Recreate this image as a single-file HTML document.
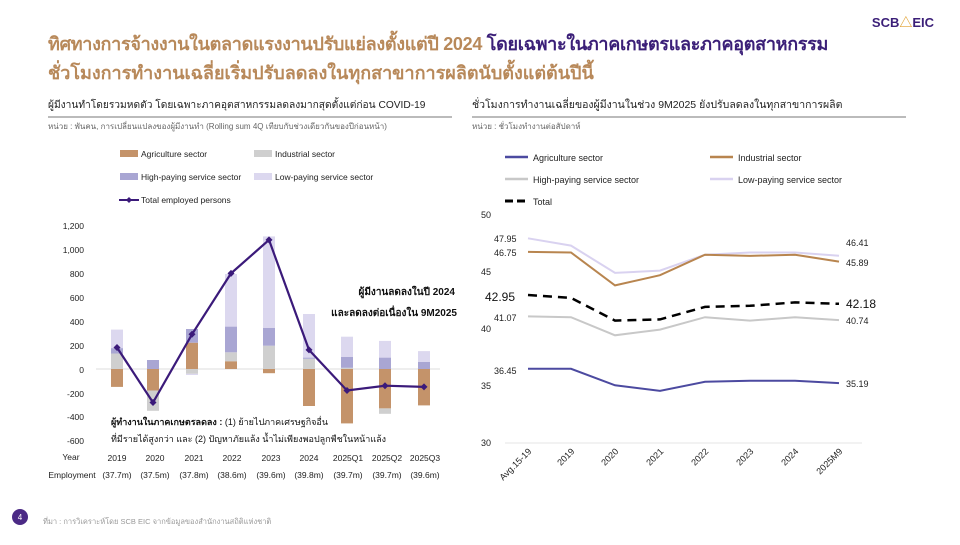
<!DOCTYPE html><html><head><meta charset="utf-8"><style>
body{margin:0;width:960px;height:540px;background:#fff;overflow:hidden;font-family:"Liberation Sans","Noto Sans CJK SC",sans-serif}
svg text{font-family:"Liberation Sans","Noto Sans CJK SC",sans-serif}
</style></head><body>
<svg width="960" height="540" viewBox="0 0 960 540" xmlns="http://www.w3.org/2000/svg">
<text x="903" y="27" font-size="13" font-weight="bold" fill="#3b1f78" text-anchor="middle">SCB<tspan fill="#e0a030">△</tspan>EIC</text>
<text x="48" y="50" font-size="18" font-weight="bold" fill="#b8895a" letter-spacing="-0.3">ทิศทางการจ้างงานในตลาดแรงงานปรับแย่ลงตั้งแต่ปี 2024 <tspan fill="#3b1f78">โดยเฉพาะในภาคเกษตรและภาคอุตสาหกรรม</tspan></text>
<text x="48" y="79" font-size="18" font-weight="bold" fill="#b8895a">ชั่วโมงการทำงานเฉลี่ยเริ่มปรับลดลงในทุกสาขาการผลิตนับตั้งแต่ต้นปีนี้</text>
<text x="48" y="108" font-size="10.2" fill="#222">ผู้มีงานทำโดยรวมหดตัว โดยเฉพาะภาคอุตสาหกรรมลดลงมากสุดตั้งแต่ก่อน COVID-19</text>
<text x="472" y="108" font-size="10.5" fill="#222">ชั่วโมงการทำงานเฉลี่ยของผู้มีงานในช่วง 9M2025 ยังปรับลดลงในทุกสาขาการผลิต</text>
<rect x="48" y="116" width="404" height="2" fill="#bbb"/>
<rect x="472" y="116" width="434" height="2" fill="#bbb"/>
<text x="48" y="129" font-size="8" fill="#666">หน่วย : พันคน, การเปลี่ยนแปลงของผู้มีงานทำ (Rolling sum 4Q เทียบกับช่วงเดียวกันของปีก่อนหน้า)</text>
<text x="472" y="129" font-size="8" fill="#666">หน่วย : ชั่วโมงทำงานต่อสัปดาห์</text>
<g font-size="8.5" fill="#222">
<rect x="120" y="150" width="18" height="7" fill="#c4936a"/><text x="141" y="157">Agriculture sector</text>
<rect x="254" y="150" width="18" height="7" fill="#cfcfcf"/><text x="275" y="157">Industrial sector</text>
<rect x="120" y="173" width="18" height="7" fill="#a9a6d3"/><text x="141" y="180">High-paying service sector</text>
<rect x="254" y="173" width="18" height="7" fill="#dcd8ef"/><text x="275" y="180">Low-paying service sector</text>
<line x1="119" y1="200" x2="139" y2="200" stroke="#3b1a7a" stroke-width="2"/><path d="M129 197l3 3-3 3-3-3z" fill="#3b1a7a"/><text x="141" y="203">Total employed persons</text>
</g>
<g font-size="8.5" fill="#222" text-anchor="end">
<text x="84" y="229">1,200</text><text x="84" y="253">1,000</text><text x="84" y="277">800</text><text x="84" y="301">600</text><text x="84" y="325">400</text><text x="84" y="349">200</text><text x="84" y="373">0</text><text x="84" y="397">-200</text><text x="84" y="420">-400</text><text x="84" y="444">-600</text>
</g>
<line x1="96" y1="369" x2="440" y2="369" stroke="#ddd"/>
<g>
<rect x="111" y="369" width="12" height="17.9" fill="#c4936a"/><rect x="111" y="353.5" width="12" height="15.5" fill="#cfcfcf"/><rect x="111" y="348.1" width="12" height="5.4" fill="#a9a6d3"/><rect x="111" y="329.6" width="12" height="18.5" fill="#dcd8ef"/>
<rect x="147" y="369" width="12" height="21.5" fill="#c4936a"/><rect x="147" y="390.5" width="12" height="20.3" fill="#cfcfcf"/><rect x="147" y="360" width="12" height="9" fill="#a9a6d3"/>
<rect x="186" y="342.7" width="12" height="26.3" fill="#c4936a"/><rect x="186" y="329" width="12" height="13.7" fill="#a9a6d3"/><rect x="186" y="369" width="12" height="4.8" fill="#cfcfcf"/><rect x="186" y="373.8" width="12" height="1.2" fill="#dcd8ef"/>
<rect x="225" y="361.2" width="12" height="7.8" fill="#c4936a"/><rect x="225" y="352.3" width="12" height="9" fill="#cfcfcf"/><rect x="225" y="326.6" width="12" height="25.7" fill="#a9a6d3"/><rect x="225" y="274" width="12" height="52.6" fill="#dcd8ef"/>
<rect x="263" y="369" width="12" height="4.2" fill="#c4936a"/><rect x="263" y="345.7" width="12" height="23.3" fill="#cfcfcf"/><rect x="263" y="327.8" width="12" height="17.9" fill="#a9a6d3"/><rect x="263" y="236.4" width="12" height="91.4" fill="#dcd8ef"/>
<rect x="303" y="369" width="12" height="37" fill="#c4936a"/><rect x="303" y="358.8" width="12" height="10.2" fill="#cfcfcf"/><rect x="303" y="357.6" width="12" height="1.2" fill="#a9a6d3"/><rect x="303" y="314" width="12" height="43.6" fill="#dcd8ef"/>
<rect x="341" y="369" width="12" height="54.4" fill="#c4936a"/><rect x="341" y="367.8" width="12" height="1.2" fill="#cfcfcf"/><rect x="341" y="357" width="12" height="10.8" fill="#a9a6d3"/><rect x="341" y="336.7" width="12" height="20.3" fill="#dcd8ef"/>
<rect x="379" y="369" width="12" height="39.4" fill="#c4936a"/><rect x="379" y="408.4" width="12" height="5.4" fill="#cfcfcf"/><rect x="379" y="357.6" width="12" height="11.4" fill="#a9a6d3"/><rect x="379" y="340.9" width="12" height="16.7" fill="#dcd8ef"/>
<rect x="418" y="369" width="12" height="36.4" fill="#c4936a"/><rect x="418" y="361.8" width="12" height="7.2" fill="#a9a6d3"/><rect x="418" y="351.1" width="12" height="10.8" fill="#dcd8ef"/>
</g>
<polyline points="117,347.5 153,402.5 192,334.3 231,273.4 269,239.9 309,349.9 347,390.5 385,385.7 424,386.9" fill="none" stroke="#3b1a7a" stroke-width="2.2"/>
<g fill="#3b1a7a">
<path d="M117 344l3.5 3.5-3.5 3.5-3.5-3.5z"/><path d="M153 399l3.5 3.5-3.5 3.5-3.5-3.5z"/><path d="M192 330.8l3.5 3.5-3.5 3.5-3.5-3.5z"/><path d="M231 269.9l3.5 3.5-3.5 3.5-3.5-3.5z"/><path d="M269 236.4l3.5 3.5-3.5 3.5-3.5-3.5z"/><path d="M309 346.4l3.5 3.5-3.5 3.5-3.5-3.5z"/><path d="M347 387l3.5 3.5-3.5 3.5-3.5-3.5z"/><path d="M385 382.2l3.5 3.5-3.5 3.5-3.5-3.5z"/><path d="M424 383.4l3.5 3.5-3.5 3.5-3.5-3.5z"/>
</g>
<text x="455" y="295" font-size="10" font-weight="bold" fill="#111" text-anchor="end">ผู้มีงานลดลงในปี 2024</text>
<text x="457" y="316" font-size="10" font-weight="bold" fill="#111" text-anchor="end">และลดลงต่อเนื่องใน 9M2025</text>
<text x="111" y="425" font-size="9" fill="#111"><tspan font-weight="bold">ผู้ทำงานในภาคเกษตรลดลง :</tspan> (1) ย้ายไปภาคเศรษฐกิจอื่น</text>
<text x="111" y="442" font-size="9" fill="#111">ที่มีรายได้สูงกว่า และ (2) ปัญหาภัยแล้ง น้ำไม่เพียงพอปลูกพืชในหน้าแล้ง</text>
<g font-size="8.5" fill="#222" text-anchor="middle">
<text x="71" y="460">Year</text><text x="117" y="461">2019</text><text x="155" y="461">2020</text><text x="194" y="461">2021</text><text x="232" y="461">2022</text><text x="271" y="461">2023</text><text x="309" y="461">2024</text><text x="348" y="461">2025Q1</text><text x="387" y="461">2025Q2</text><text x="425" y="461">2025Q3</text>
<text x="72" y="478">Employment</text><text x="117" y="478">(37.7m)</text><text x="155" y="478">(37.5m)</text><text x="194" y="478">(37.8m)</text><text x="232" y="478">(38.6m)</text><text x="271" y="478">(39.6m)</text><text x="309" y="478">(39.8m)</text><text x="348" y="478">(39.7m)</text><text x="387" y="478">(39.7m)</text><text x="425" y="478">(39.6m)</text>
</g>
<g font-size="9" fill="#222">
<line x1="505" y1="157" x2="528" y2="157" stroke="#4c4aa0" stroke-width="2.5"/><text x="533" y="161">Agriculture sector</text>
<line x1="710" y1="157" x2="733" y2="157" stroke="#b8854f" stroke-width="2.5"/><text x="738" y="161">Industrial sector</text>
<line x1="505" y1="179" x2="528" y2="179" stroke="#c8c8c8" stroke-width="2.5"/><text x="533" y="183">High-paying service sector</text>
<line x1="710" y1="179" x2="733" y2="179" stroke="#d9d2f0" stroke-width="2.5"/><text x="738" y="183">Low-paying service sector</text>
<line x1="505" y1="201" x2="528" y2="201" stroke="#000" stroke-width="3" stroke-dasharray="8,4"/><text x="533" y="205">Total</text>
</g>
<g font-size="9" fill="#222">
<text x="481" y="218">50</text><text x="481" y="275">45</text><text x="481" y="332">40</text><text x="481" y="389">35</text><text x="481" y="446">30</text>
</g>
<line x1="505" y1="443" x2="862" y2="443" stroke="#e4e4e4"/>
<polyline points="528,238.3 571,245.6 615,272.9 660,270.6 705,254.7 750,252.5 795,252.5 839,255.7" fill="none" stroke="#d9d2f0" stroke-width="2"/>
<polyline points="528,251.9 571,252.5 615,285.4 660,275.2 705,254.7 750,255.9 795,254.7 839,261.6" fill="none" stroke="#b8854f" stroke-width="2"/>
<polyline points="528,295 571,297.9 615,320.6 660,319.4 705,306.9 750,305.8 795,302.4 839,303.8" fill="none" stroke="#000" stroke-width="2.5" stroke-dasharray="9,6"/>
<polyline points="528,316.4 571,317.2 615,335.3 660,329.6 705,317.2 750,320.6 795,317.2 839,320.1" fill="none" stroke="#c8c8c8" stroke-width="2"/>
<polyline points="528,368.8 571,368.8 615,385.3 660,390.9 705,381.8 750,380.7 795,380.7 839,383.1" fill="none" stroke="#4c4aa0" stroke-width="2"/>
<g font-size="9" fill="#222">
<text x="494" y="242">47.95</text><text x="494" y="256">46.75</text><text x="485" y="301" font-size="12" fill="#111">42.95</text><text x="494" y="321">41.07</text><text x="494" y="374">36.45</text>
<text x="846" y="246">46.41</text><text x="846" y="266">45.89</text><text x="846" y="308" font-size="12" fill="#111">42.18</text><text x="846" y="324">40.74</text><text x="846" y="387">35.19</text>
</g>
<g font-size="9" fill="#222" text-anchor="end">
<text transform="translate(532,452) rotate(-45)">Avg.15-19</text>
<text transform="translate(575,452) rotate(-45)">2019</text>
<text transform="translate(619,452) rotate(-45)">2020</text>
<text transform="translate(664,452) rotate(-45)">2021</text>
<text transform="translate(709,452) rotate(-45)">2022</text>
<text transform="translate(754,452) rotate(-45)">2023</text>
<text transform="translate(799,452) rotate(-45)">2024</text>
<text transform="translate(843,452) rotate(-45)">2025M9</text>
</g>
<circle cx="20" cy="517" r="8" fill="#4b2a85"/><text x="20" y="520" font-size="8" fill="#fff" text-anchor="middle">4</text>
<text x="43" y="524" font-size="7.5" fill="#999">ที่มา : การวิเคราะห์โดย SCB EIC จากข้อมูลของสำนักงานสถิติแห่งชาติ</text>
</svg>
</body></html>
